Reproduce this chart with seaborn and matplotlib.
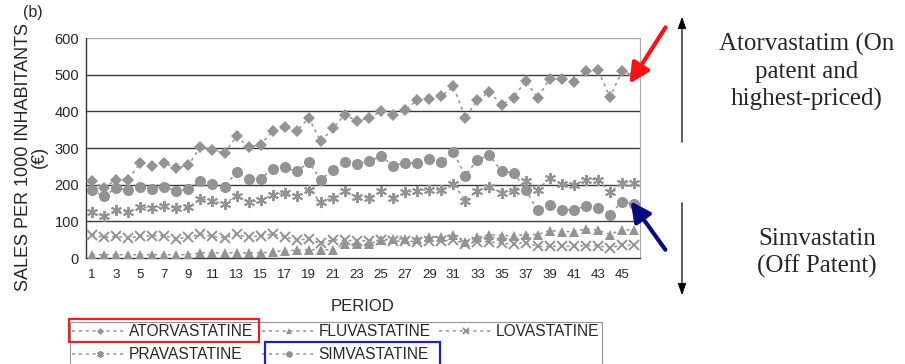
import numpy as np
import pandas as pd
import seaborn as sns
import matplotlib.pyplot as plt
from matplotlib.patches import Rectangle, FancyArrowPatch

period = list(range(1, 47))

atorvastatine = [209, 191, 214, 214, 259, 250, 259, 245, 253, 303,
                 295, 286, 332, 303, 309, 347, 357, 346, 382, 318,
                 354, 391, 373, 382, 400, 389, 404, 430, 434, 441,
                 468, 382, 432, 453, 418, 436, 484, 436, 489, 489,
                 479, 509, 514, 439, 509, 498]
fluvastatine = [9, 9, 9, 9, 9, 9, 9, 9, 9, 14,
                14, 14, 14, 14, 14, 17, 20, 21, 23, 22,
                22, 39, 37, 38, 50, 51, 53, 53, 57, 57,
                64, 45, 57, 64, 61, 61, 64, 64, 75, 72,
                72, 79, 76, 64, 77, 77]
lovastatine = [64, 56, 59, 55, 59, 61, 61, 53, 56, 65,
               59, 55, 65, 56, 61, 65, 58, 50, 51, 40,
               50, 48, 47, 47, 48, 46, 46, 45, 47, 46,
               50, 38, 44, 44, 40, 38, 42, 32, 32, 32,
               32, 34, 34, 27, 36, 35]
pravastatine = [125, 114, 130, 125, 139, 136, 141, 136, 139, 161,
                155, 148, 170, 152, 157, 173, 178, 169, 186, 153,
                165, 182, 166, 165, 182, 165, 179, 184, 186, 186,
                203, 156, 184, 195, 177, 184, 209, 186, 218, 202,
                198, 214, 214, 180, 205, 205]
simvastatine = [186, 168, 191, 185, 193, 189, 195, 182, 189, 209,
                203, 193, 235, 216, 216, 244, 247, 236, 261, 214,
                239, 261, 257, 264, 277, 252, 259, 259, 270, 262,
                288, 225, 268, 280, 236, 233, 186, 130, 145, 132,
                132, 141, 136, 118, 154, 146]

names = ["ATORVASTATINE", "FLUVASTATINE", "LOVASTATINE", "PRAVASTATINE", "SIMVASTATINE"]
values = [atorvastatine, fluvastatine, lovastatine, pravastatine, simvastatine]
markers = ["D", "^", "x", (6, 2, 0), "o"]
msizes = [6, 7, 7, 8, 8]

sns.set_style("white")
plt.rcParams["font.family"] = ["Liberation Sans", "DejaVu Sans"]

W, H = 905, 364
fig = plt.figure(figsize=(W / 100, H / 100), dpi=100)
ax = fig.add_axes([86 / W, 1 - 258 / H, 554 / W, 220 / H])

grey = "#939393"
for name, vals, mk, ms in zip(names, values, markers, msizes):
    df = pd.DataFrame({"period": period, "sales": vals})
    sns.lineplot(data=df, x="period", y="sales", ax=ax, color=grey,
                 linestyle=(0, (2, 2.5)), linewidth=1.1, marker=mk,
                 markersize=ms, markeredgewidth=1.4 if mk in ("x", (6, 2, 0)) else 0,
                 markeredgecolor=grey, label=name, zorder=3)

ax.set_xlim(0.5, 46.5)
ax.set_ylim(0, 600)
ax.set_yticks(range(0, 601, 100))
ax.set_xticks(range(1, 46, 2))
ax.set_xticks(range(1, 47), minor=True)
ax.tick_params(axis="x", which="both", direction="out", length=4, width=1,
               color="#333333", labelsize=9.5, pad=4)
ax.tick_params(axis="y", length=3, width=1, color="#333333", labelsize=10.5, pad=2)
for y in range(100, 600, 100):
    ax.axhline(y, color="#3a3a3a", linewidth=1, zorder=1)
ax.axhline(600, color="#a8a8a8", linewidth=1, zorder=1)

for side in ["left", "bottom"]:
    ax.spines[side].set_color("#333333")
    ax.spines[side].set_linewidth(1)
ax.spines["right"].set_color("#a8a8a8")
ax.spines["top"].set_visible(False)

ax.set_xlabel("PERIOD", fontsize=12, labelpad=13)
ax.set_ylabel("SALES PER 1000 INHABITANTS\n(€)", fontsize=13, linespacing=0.95)
ax.yaxis.set_label_coords(-0.068, 0.46)
fig.text(33 / W, 1 - 12 / H, "(b)", fontsize=11.5, ha="center", va="center")

# legend, row-major order
h, l = ax.get_legend_handles_labels()
ax.get_legend().remove()
order = [0, 3, 1, 4, 2]
leg = fig.legend([h[i] for i in order], [l[i] for i in order], ncol=3,
                 loc="upper left", bbox_to_anchor=(70 / W, 1 - 322 / H),
                 bbox_transform=fig.transFigure,
                 frameon=True, fontsize=11.2, markerscale=0.6,
                 handlelength=3.5, handletextpad=0.15,
                 columnspacing=0.55, borderpad=0.15, borderaxespad=0,
                 labelspacing=0.5, fancybox=False, edgecolor="#777777")
leg.get_frame().set_linewidth(0.8)

# highlight boxes drawn over the legend
for x0, y0, w, hgt, col in [(69, 342, 190, 23, "#e82020"), (265, 366, 175, 24, "#2020c8")]:
    fig.patches.append(Rectangle((x0 / W, 1 - y0 / H), w / W, hgt / H,
                                 transform=fig.transFigure, fill=False,
                                 edgecolor=col, linewidth=1.6, zorder=20))

# annotations on the right
serif = ["Liberation Serif", "DejaVu Serif"]
fig.text(807 / W, 1 - 72 / H, "Atorvastatim (On\npatent and\nhighest-priced)",
         ha="center", va="center", fontsize=18, family=serif, linespacing=1.3)
fig.text(817 / W, 1 - 253 / H, "Simvastatin\n(Off Patent)",
         ha="center", va="center", fontsize=18, family=serif, linespacing=1.3)


def fig_arrow(x0, y0, x1, y1, color, lw, head):
    fig.patches.append(FancyArrowPatch((x0 / W, 1 - y0 / H), (x1 / W, 1 - y1 / H),
                                       transform=fig.transFigure, color=color,
                                       linewidth=lw, arrowstyle=head,
                                       mutation_scale=10, zorder=20))


fig_arrow(682, 145, 682, 14, "black", 0.9, "-|>,head_length=0.7,head_width=0.25")
fig_arrow(682, 200, 682, 298, "black", 0.9, "-|>,head_length=0.7,head_width=0.25")
fig_arrow(667, 25, 628, 86, "#ff1010", 3, "-|>,head_length=1.2,head_width=0.6")
fig_arrow(667, 252, 629, 199, "#0a0a80", 3, "-|>,head_length=1.2,head_width=0.6")

fig.savefig("out.png", dpi=100)
